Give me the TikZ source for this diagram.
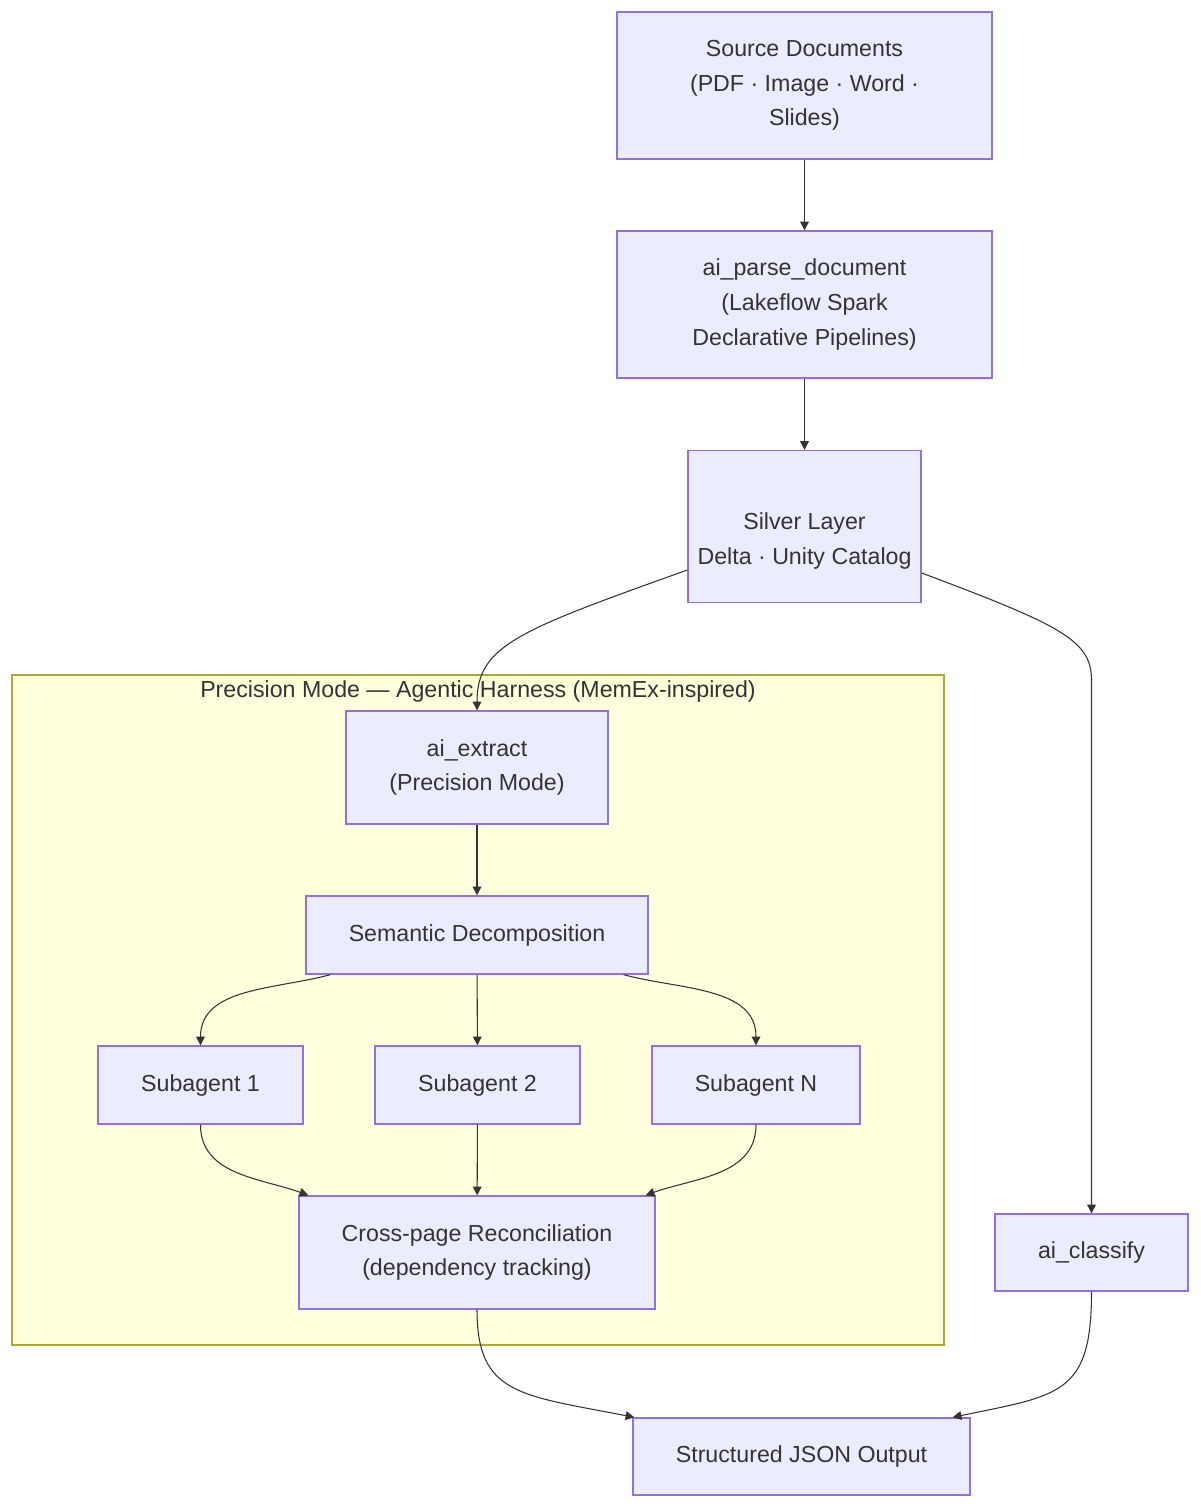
\documentclass[tikz,border=0pt]{standalone}
\usepackage{fontspec}
\setmainfont{Liberation Sans}
\usetikzlibrary{shapes.geometric,arrows.meta}
\definecolor{boxfill}{HTML}{ECECFF}
\definecolor{boxline}{HTML}{9370DB}
\definecolor{clusterfill}{HTML}{FFFFDE}
\definecolor{clusterline}{HTML}{AAAA33}
\definecolor{edgecol}{HTML}{333333}
\begin{document}
\begin{tikzpicture}[
	x = 0.02cm, y = -0.02cm,
	font = \fontsize{13.2}{19.8}\selectfont,
	text = edgecol,
	boxnode/.style={rectangle, draw=boxline, fill=boxfill, line width=0.8pt, align=center, inner sep=0pt},
	dbnode/.style={cylinder, shape border rotate=90, aspect=0.2, draw=boxline, fill=boxfill, line width=0.8pt, inner sep=0pt},
	flow/.style={draw=edgecol, line width=0.6pt, -{Triangle[length=5pt,width=5pt]}},
	]
	\useasboundingbox (0,0) rectangle (1200,1506);
	%Cluster
	\node[draw=clusterline, fill=clusterfill, line width=0.8pt, minimum width=18.64cm, minimum height=13.4cm, inner sep=0pt] (harness) at (478,1010) {};
	\node (harnesstitle) at (478,691) {Precision Mode — Agentic Harness (MemEx-inspired)};
	%Nodes
	\node[boxnode, minimum width=7.5cm, minimum height=2.94cm] (src) at (804.5,85.5) {Source Documents\\(PDF · Image · Word ·\\Slides)};
	\node[boxnode, minimum width=7.5cm, minimum height=2.94cm] (parse) at (804.5,304.5) {ai\_parse\_document\\(Lakeflow Spark\\Declarative Pipelines)};
	\node[dbnode, minimum width=4.66cm, minimum height=3.04cm] (silver) at (804.5,527) {};
	\node[align=center] (silvertext) at (804.5,541) {Silver Layer\\Delta · Unity Catalog};
	\node[boxnode, minimum width=5.24cm, minimum height=2.26cm] (extract) at (477,767.5) {ai\_extract\\(Precision Mode)};
	\node[boxnode, minimum width=6.84cm, minimum height=1.56cm] (decomp) at (477,935) {Semantic Decomposition};
	\node[boxnode, minimum width=4.1cm, minimum height=1.56cm] (sub1) at (200.5,1085) {Subagent 1};
	\node[boxnode, minimum width=4.1cm, minimum height=1.56cm] (sub2) at (477.5,1085) {Subagent 2};
	\node[boxnode, minimum width=4.16cm, minimum height=1.56cm] (subN) at (756,1085) {Subagent N};
	\node[boxnode, minimum width=7.12cm, minimum height=2.26cm] (recon) at (477,1252.5) {Cross-page Reconciliation\\(dependency tracking)};
	\node[boxnode, minimum width=3.86cm, minimum height=1.54cm] (classify) at (1091.5,1252.5) {ai\_classify};
	\node[boxnode, minimum width=6.74cm, minimum height=1.54cm] (out) at (801.5,1456.5) {Structured JSON Output};
	\coordinate (bend) at (1091.5,680);
	%Lines
	\draw[flow] (src) -- (parse);
	\draw[flow] (parse) -- (silver);
	\draw[flow] (silver.west |- 0,570) .. controls (520,630) and (477,645) .. (extract.north);
	\draw[flow] (silver.east |- 0,573) .. controls (1060,625) and (1091.5,640) .. (bend) -- (classify.north);
	\draw[flow] (extract) -- (decomp);
	\draw[flow] ([xshift=0.5cm]decomp.south west) to[out=-165, in=90] (sub1.north);
	\draw[flow] (decomp) -- (sub2);
	\draw[flow] ([xshift=-0.5cm]decomp.south east) to[out=-15, in=90] (subN.north);
	\draw[flow] (sub1.south) to[out=-90, in=160] ([xshift=0.2cm]recon.north west);
	\draw[flow] (sub2) -- (recon);
	\draw[flow] (subN.south) to[out=-90, in=20] ([xshift=-0.2cm]recon.north east);
	\draw[flow] (recon.south) .. controls (477,1395) and (520,1395) .. ([xshift=0.04cm]out.north west);
	\draw[flow] (classify.south) .. controls (1091.5,1395) and (1060,1395) .. ([xshift=-0.36cm]out.north east);
\end{tikzpicture}
\end{document}
